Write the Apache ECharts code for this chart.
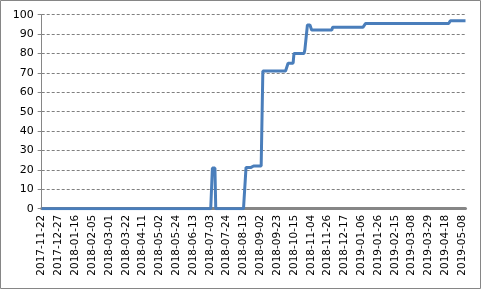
<!DOCTYPE html>
<html>
<head>
<meta charset="utf-8">
<script src="https://cdn.jsdelivr.net/npm/echarts@6/dist/echarts.min.js"></script>
<style>
html,body{margin:0;padding:0;background:#fff;}
#chart{width:481px;height:289px;}
</style>
</head>
<body>
<div id="chart"></div>
<script>
// Tick labels shown on the category axis
const tickLabels = ['2017-11-22','2017-12-27','2018-01-16','2018-02-05','2018-03-01','2018-03-22','2018-04-11','2018-05-02','2018-05-24','2018-06-13','2018-07-03','2018-07-24','2018-08-13','2018-09-02','2018-09-23','2018-10-15','2018-11-04','2018-11-26','2018-12-17','2019-01-06','2019-01-26','2019-02-15','2019-03-08','2019-03-29','2019-04-18','2019-05-08'];
const categoriesPerTick = 20;
const tailCategories = 4;

// Series: value holds from each start date
const stepStarts = ['2017-11-22','2018-07-06','2018-07-10','2018-08-16','2018-08-25','2018-09-05','2018-10-06','2018-10-15','2018-10-28','2018-10-31','2018-11-05','2018-12-02','2019-01-11','2019-04-24'];
const stepValues = [0,21,0,21.3,22,71,75,80,82,94.7,92.1,93.5,95.4,96.9];

function addDays(s, n){
  const d = new Date(s + 'T00:00:00Z');
  d.setUTCDate(d.getUTCDate() + n);
  return d.toISOString().slice(0,10);
}
const categories = [];
tickLabels.forEach((t, i) => {
  const count = i < tickLabels.length - 1 ? categoriesPerTick : tailCategories + 1;
  for (let k = 0; k < count; k++) categories.push(addDays(t, k));
});
const values = categories.map(c => {
  let v = stepValues[0];
  for (let j = 0; j < stepStarts.length; j++) if (c >= stepStarts[j]) v = stepValues[j];
  return v;
});
const tickSet = new Set(tickLabels);

const chart = echarts.init(document.getElementById('chart'), null, {renderer:'canvas'});
chart.setOption({
  animation:false,
  backgroundColor:'#ffffff',
  textStyle:{fontFamily:'DejaVu Sans'},
  graphic:[{type:'rect', shape:{x:0.5,y:0.5,width:480,height:288}, style:{fill:'none', stroke:'#868686', lineWidth:1}, silent:true, z:100}],
  grid:{left:41.7, right:15.5, top:14.7, bottom:80.3, containLabel:false},
  xAxis:{
    type:'category', data:categories, boundaryGap:false,
    axisLine:{show:true, lineStyle:{color:'#868686', width:3}},
    axisTick:{show:false},
    axisLabel:{rotate:90, fontSize:10.5, color:'#000', margin:6, fontFamily:'DejaVu Sans',
      interval:function(idx, val){ return tickSet.has(val); }},
    splitLine:{show:false}
  },
  yAxis:{
    type:'value', min:0, max:100, interval:10,
    axisLine:{show:true, lineStyle:{color:'#868686', width:1}},
    axisTick:{show:true, length:4, lineStyle:{color:'#868686'}},
    axisLabel:{fontSize:11, color:'#000', margin:8, fontFamily:'DejaVu Sans'},
    splitLine:{show:true, lineStyle:{color:'#808080', type:[3,2], width:1}}
  },
  series:[{
    type:'line', data:values, showSymbol:false, symbol:'none',
    lineStyle:{color:'#4a7ebb', width:3},
    itemStyle:{color:'#4a7ebb'}, z:5
  }]
});
</script>
</body>
</html>
